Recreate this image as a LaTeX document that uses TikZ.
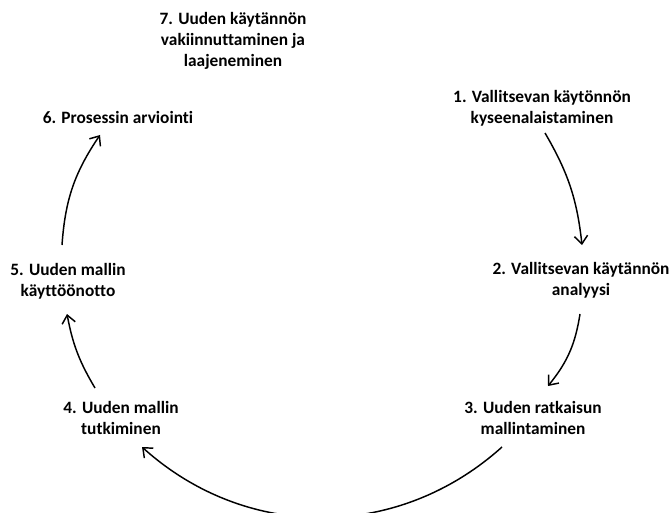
\documentclass[tikz,border=0pt]{standalone}
\usepackage{fontspec}
\setmainfont{Carlito}[Ligatures=NoCommon]
\usepackage{tikz}
\usetikzlibrary{arrows.meta}
\tikzstyle{phase} = [align=center, inner sep=0pt, font=\bfseries\fontsize{13}{15.6}\selectfont]
\tikzstyle{arrow} = [line width=1.1pt, ->, >={Straight Barb[length=6pt, width=10pt, line width=1.1pt]}]

\begin{document}
\begin{tikzpicture}[x=0.75pt, y=-0.75pt]
      \useasboundingbox (0,0) rectangle (670,513);

      \node (vakiin)  [phase] at (233,41)  {7. Uuden käytännön\\vakiinnuttaminen ja\\laajeneminen};
      \node (arvio)   [phase] at (118,117) {6. Prosessin arviointi};
      \node (kysee)   [phase] at (542,108) {1. Vallitsevan käytönnön\\kyseenalaistaminen};
      \node (analyysi)[phase] at (581,280) {2. Vallitsevan käytännön\\analyysi};
      \node (mallinn) [phase] at (533,418) {3. Uuden ratkaisun\\mallintaminen};
      \node (tutkim)  [phase] at (121,418) {4. Uuden mallin\\tutkiminen};
      \node (kaytto)  [phase] at (68,281)  {5. Uuden mallin\\käyttöönotto};

      \draw [arrow] ([shift={(3,25)}]kysee.center)      to[bend left=12] ([shift={(1,-35)}]analyysi.center);
      \draw [arrow] ([shift={(-1,34)}]analyysi.center)  to[bend left=15] ([shift={(15,-32)}]mallinn.center);
      \draw [arrow] ([shift={(-31,29)}]mallinn.center)  to[bend left=42] ([shift={(21,29)}]tutkim.center);
      \draw [arrow] ([shift={(-26,-30)}]tutkim.center)  to[bend left=10] ([shift={(-1,33)}]kaytto.center);
      \draw [arrow] ([shift={(-6,-36)}]kaytto.center)   to[bend left=15] ([shift={(-18,18)}]arvio.center);
    \end{tikzpicture}
\end{document}
